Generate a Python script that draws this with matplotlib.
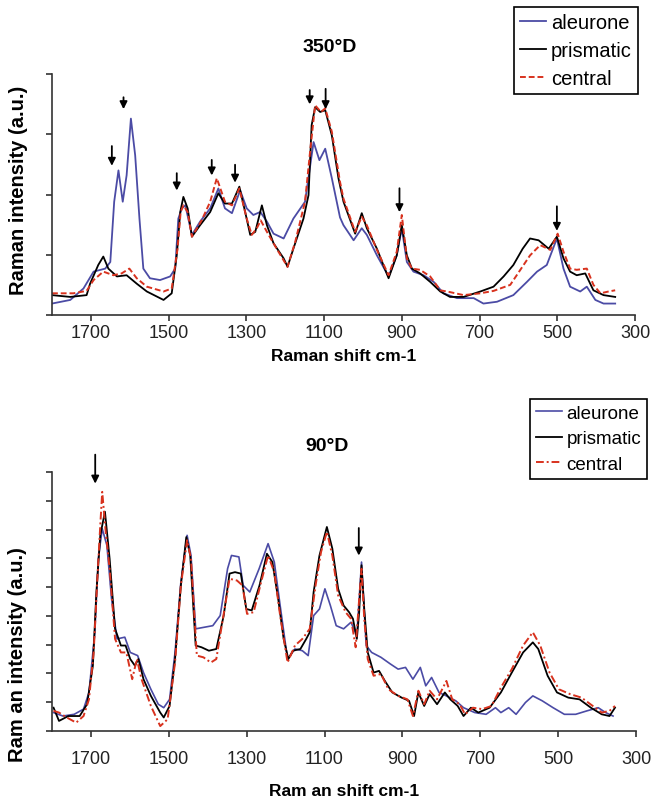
import numpy as np
import matplotlib
matplotlib.use("Agg")
import matplotlib.pyplot as plt

plt.rcParams['font.family'] = ['Liberation Sans', 'DejaVu Sans']

# ---- 350°D ----
ale350_w = [1800, 1753, 1719, 1693, 1663, 1650, 1640, 1629, 1618, 1608, 1597, 1586, 1575, 1565, 1548, 1522,
            1496, 1483, 1475, 1466, 1457, 1440, 1419, 1393, 1372, 1355, 1337, 1316, 1299, 1282, 1264, 1247,
            1230, 1204, 1179, 1149, 1127, 1112, 1097, 1080, 1059, 1050, 1024, 1003, 990, 964, 934, 913,
            900, 887, 870, 844, 818, 793, 758, 715, 690, 655, 613, 578, 552, 527, 501, 484,
            467, 441, 424, 402, 381, 351]
ale350_y = [0.19, 0.25, 0.44, 0.72, 0.77, 0.88, 1.88, 2.40, 1.88, 2.32, 3.26, 2.65, 1.60, 0.77, 0.61, 0.58,
            0.64, 0.77, 1.60, 1.77, 1.82, 1.33, 1.55, 1.77, 2.10, 1.77, 1.69, 2.07, 1.77, 1.66, 1.71, 1.55,
            1.35, 1.27, 1.60, 1.88, 2.87, 2.57, 2.76, 2.27, 1.62, 1.49, 1.24, 1.44, 1.33, 0.99, 0.64, 0.99,
            1.44, 0.88, 0.72, 0.66, 0.55, 0.36, 0.28, 0.28, 0.19, 0.22, 0.33, 0.55, 0.72, 0.83, 1.27, 0.77,
            0.47, 0.39, 0.47, 0.25, 0.19, 0.19]

pri350_w = [1800, 1753, 1711, 1702, 1681, 1668, 1655, 1633, 1608, 1582, 1556, 1513, 1492, 1479, 1470, 1462,
            1451, 1440, 1419, 1393, 1372, 1355, 1337, 1318, 1303, 1290, 1277, 1260, 1247, 1230, 1204, 1194,
            1179, 1153, 1140, 1132, 1123, 1110, 1097, 1080, 1063, 1050, 1020, 1003, 990, 964, 934, 913,
            900, 887, 874, 853, 827, 801, 776, 741, 698, 664, 638, 613, 589, 570, 548, 522,
            501, 484, 467, 450, 428, 407, 381, 351]
pri350_y = [0.33, 0.30, 0.33, 0.52, 0.83, 0.97, 0.77, 0.64, 0.66, 0.52, 0.39, 0.25, 0.36, 0.99, 1.71, 1.96,
            1.77, 1.30, 1.49, 1.71, 2.02, 1.85, 1.85, 2.13, 1.71, 1.33, 1.38, 1.82, 1.49, 1.19, 0.94, 0.80,
            1.10, 1.60, 1.99, 3.15, 3.45, 3.37, 3.40, 2.98, 2.27, 1.88, 1.35, 1.69, 1.44, 1.10, 0.61, 0.99,
            1.49, 0.99, 0.77, 0.69, 0.55, 0.39, 0.30, 0.30, 0.39, 0.47, 0.64, 0.83, 1.10, 1.27, 1.24, 1.10,
            1.30, 0.94, 0.72, 0.66, 0.69, 0.41, 0.33, 0.30]

cen350_w = [1800, 1745, 1711, 1693, 1668, 1642, 1621, 1601, 1582, 1556, 1513, 1492, 1477, 1469, 1462, 1451,
            1440, 1415, 1393, 1376, 1355, 1337, 1318, 1299, 1286, 1273, 1263, 1247, 1222, 1194, 1174, 1149,
            1136, 1123, 1108, 1097, 1080, 1059, 1050, 1020, 1003, 990, 964, 934, 913, 900, 887, 874,
            853, 827, 801, 776, 741, 698, 664, 621, 595, 570, 544, 518, 499, 484, 467, 450,
            424, 407, 389, 368, 351]
cen350_y = [0.36, 0.36, 0.40, 0.58, 0.72, 0.66, 0.69, 0.77, 0.61, 0.47, 0.39, 0.44, 1.10, 1.71, 1.82, 1.71,
            1.30, 1.57, 1.88, 2.27, 1.88, 1.82, 2.10, 1.60, 1.33, 1.44, 1.57, 1.38, 1.10, 0.80, 1.22, 1.88,
            2.71, 3.48, 3.37, 3.43, 3.04, 2.21, 1.93, 1.38, 1.63, 1.49, 1.08, 0.66, 1.05, 1.66, 0.94, 0.77,
            0.75, 0.64, 0.41, 0.38, 0.33, 0.36, 0.40, 0.50, 0.75, 0.99, 1.16, 1.08, 1.35, 1.05, 0.77, 0.75,
            0.77, 0.50, 0.36, 0.39, 0.41]

arr350_w = [1646, 1616, 1479, 1389, 1329, 1137, 1096, 906, 501]
arr350_tip = [2.43, 3.37, 2.02, 2.27, 2.15, 3.45, 3.37, 1.66, 1.35]
arr350_top = [2.85, 3.66, 2.40, 2.62, 2.54, 3.78, 3.80, 2.15, 1.85]

# ---- 90°D ----
ale90_w = [1796, 1772, 1743, 1719, 1705, 1690, 1681, 1671, 1659, 1647, 1633, 1613, 1599, 1580, 1565, 1546,
           1527, 1513, 1498, 1484, 1469, 1453, 1443, 1431, 1411, 1387, 1368, 1349, 1339, 1320, 1309, 1292,
           1268, 1245, 1229, 1214, 1195, 1176, 1157, 1142, 1128, 1113, 1099, 1085, 1070, 1051, 1032, 1017,
           1011, 1005, 993, 979, 955, 931, 911, 892, 873, 854, 840, 825, 806, 787, 763, 743,
           714, 685, 661, 647, 627, 608, 584, 565, 541, 513, 484, 455, 426, 397, 378, 359]
ale90_y = [0.64, 0.52, 0.58, 0.76, 1.34, 3.43, 5.99, 7.03, 6.45, 4.59, 3.20, 3.26, 2.73, 2.62, 2.03, 1.45,
           0.93, 0.81, 1.10, 2.73, 5.17, 6.80, 6.10, 3.55, 3.60, 3.66, 4.01, 5.64, 6.10, 6.05, 5.06, 4.83,
           5.64, 6.51, 5.87, 4.36, 2.50, 2.85, 2.79, 2.62, 4.01, 4.24, 4.94, 4.36, 3.66, 3.55, 3.78, 3.31,
           4.59, 5.87, 2.97, 2.73, 2.56, 2.33, 2.15, 2.21, 1.80, 2.21, 1.57, 1.86, 1.34, 1.22, 1.05, 0.81,
           0.64, 0.58, 0.81, 0.64, 0.81, 0.58, 0.99, 1.22, 1.05, 0.81, 0.58, 0.58, 0.70, 0.81, 0.64, 0.52]

pri90_w = [1796, 1782, 1758, 1729, 1710, 1695, 1686, 1676, 1664, 1652, 1638, 1623, 1611, 1599, 1587, 1578,
           1565, 1546, 1522, 1513, 1498, 1484, 1469, 1455, 1445, 1431, 1416, 1397, 1378, 1359, 1344, 1330,
           1315, 1301, 1287, 1267, 1248, 1234, 1219, 1205, 1193, 1181, 1162, 1147, 1138, 1128, 1113, 1094,
           1080, 1065, 1051, 1037, 1027, 1017, 1011, 1005, 998, 989, 974, 960, 945, 926, 902, 883,
           870, 859, 844, 830, 811, 791, 777, 758, 743, 724, 705, 676, 647, 619, 590, 565,
           551, 527, 503, 474, 445, 416, 388, 368, 354]
pri90_y = [0.81, 0.35, 0.52, 0.52, 0.93, 2.27, 4.83, 6.80, 7.62, 5.99, 3.55, 2.97, 2.97, 2.50, 2.27, 2.50,
           1.80, 1.22, 0.64, 0.47, 0.87, 2.50, 5.06, 6.74, 6.10, 2.97, 2.91, 2.79, 2.85, 4.01, 5.47, 5.52,
           5.47, 4.24, 4.19, 5.06, 6.16, 5.87, 4.59, 3.20, 2.50, 2.79, 2.85, 3.20, 3.43, 4.83, 6.10, 7.09,
           6.34, 4.94, 4.36, 4.13, 3.90, 3.20, 4.13, 5.76, 4.24, 2.73, 2.03, 2.09, 1.74, 1.34, 1.16, 1.05,
           0.52, 1.34, 0.87, 1.28, 0.93, 1.34, 1.10, 0.87, 0.52, 0.81, 0.64, 0.81, 1.34, 2.03, 2.73, 3.08,
           2.85, 1.92, 1.34, 1.16, 1.10, 0.81, 0.58, 0.52, 0.81]

cen90_w = [1796, 1782, 1762, 1738, 1719, 1705, 1693, 1683, 1676, 1671, 1662, 1652, 1638, 1623, 1609, 1594,
           1582, 1570, 1546, 1522, 1503, 1484, 1469, 1453, 1443, 1428, 1411, 1392, 1378, 1364, 1344, 1325,
           1311, 1299, 1282, 1263, 1245, 1229, 1214, 1195, 1176, 1157, 1138, 1123, 1109, 1094, 1080, 1065,
           1046, 1032, 1020, 1011, 1005, 998, 989, 974, 955, 936, 911, 887, 873, 859, 844, 830,
           811, 787, 772, 753, 739, 719, 695, 671, 647, 619, 590, 565, 546, 522, 498, 469,
           440, 411, 388, 368, 354]
cen90_y = [0.70, 0.64, 0.47, 0.29, 0.52, 1.10, 2.73, 5.41, 7.15, 8.31, 6.92, 5.64, 3.20, 2.73, 2.73, 1.80,
           2.50, 1.80, 0.87, 0.17, 0.41, 2.38, 5.06, 6.63, 5.99, 2.62, 2.56, 2.38, 2.50, 3.66, 5.29, 5.23,
           5.06, 4.07, 4.13, 5.17, 6.10, 5.52, 4.01, 2.38, 2.97, 3.20, 3.55, 5.06, 6.22, 6.92, 6.10, 4.71,
           4.13, 3.90, 2.91, 4.59, 5.64, 3.90, 2.50, 1.92, 1.98, 1.45, 1.22, 1.10, 0.52, 1.40, 0.93, 1.40,
           1.10, 1.74, 1.10, 0.93, 0.58, 0.81, 0.76, 0.87, 1.51, 2.15, 2.97, 3.43, 2.97, 2.03, 1.45, 1.28,
           1.16, 0.87, 0.64, 0.70, 0.87]

arr90_w = [1689, 1012]
arr90_tip = [8.5, 6.0]
arr90_top = [9.7, 7.15]

xticks = [1700, 1500, 1300, 1100, 900, 700, 500, 300]

blue = '#4b4ba5'
red = '#d8321e'

fig = plt.figure(figsize=(6.55, 8.04), dpi=100)
W, H = 655.0, 804.0
ax1 = fig.add_axes([52 / W, 1 - 316 / H, 583 / W, 241 / H])
ax2 = fig.add_axes([52 / W, 1 - 732 / H, 584 / W, 259 / H])


def style(ax, ymax, pad):
    ax.set_xlim(1800, 300)
    ax.set_ylim(0, ymax)
    ax.set_xticks(xticks)
    ax.set_yticks(range(0, ymax + 1))
    ax.set_yticklabels([])
    for s in ['top', 'right']:
        ax.spines[s].set_visible(False)
    for s in ['left', 'bottom']:
        ax.spines[s].set_linewidth(1.2)
        ax.spines[s].set_color('#333333')
    ax.tick_params(axis='both', direction='out', length=4.5, width=1.2, color='#333333')
    ax.tick_params(axis='x', labelsize=13, pad=pad, labelcolor='#222222')


style(ax1, 4, 2)
ax1.plot(ale350_w, ale350_y, color=blue, lw=1.3, label='aleurone')
ax1.plot(pri350_w, pri350_y, color='black', lw=1.3, label='prismatic')
ax1.plot(cen350_w, cen350_y, color=red, lw=1.4, dashes=(3, 1.5), label='central')
for w, t, b in zip(arr350_w, arr350_tip, arr350_top):
    ax1.annotate('', xy=(w, t), xytext=(w, b),
                 arrowprops=dict(arrowstyle='-|>', color='black', lw=1.3, mutation_scale=11))
ax1.set_xlabel('Raman shift cm-1', fontsize=12.5, fontweight='bold', labelpad=5)
ax1.set_ylabel('Raman intensity (a.u.)', fontsize=14.5, fontweight='bold')
ax1.yaxis.set_label_coords(-0.042, 0.52)
fig.text(330 / W, 1 - 47 / H, '350°D', fontsize=14, fontweight='bold', ha='center', va='center')
leg1 = ax1.legend(loc='upper right', bbox_to_anchor=(638 / W, 1 - 8 / H), bbox_transform=fig.transFigure,
                  fancybox=False, edgecolor='black', framealpha=1, fontsize=14.5, handlelength=1.3,
                  handletextpad=0.25, labelspacing=0.45, borderpad=0.3, borderaxespad=0)
leg1.get_frame().set_linewidth(1.2)

style(ax2, 9, 9)
ax2.plot(ale90_w, ale90_y, color=blue, lw=1.2, label='aleurone')
ax2.plot(pri90_w, pri90_y, color='black', lw=1.3, label='prismatic')
ax2.plot(cen90_w, cen90_y, color=red, lw=1.4, dashes=(4, 1.5, 1, 1.5), label='central')
for w, t, b in zip(arr90_w, arr90_tip, arr90_top):
    ax2.annotate('', xy=(w, t), xytext=(w, b), annotation_clip=False,
                 arrowprops=dict(arrowstyle='-|>', color='black', lw=1.3, mutation_scale=11))
ax2.set_xlabel('Ram an shift cm-1', fontsize=12.5, fontweight='bold', labelpad=12)
ax2.set_ylabel('Ram an intensity (a.u.)', fontsize=14.5, fontweight='bold')
ax2.yaxis.set_label_coords(-0.042, 0.30)
fig.text(327 / W, 1 - 447 / H, '90°D', fontsize=14, fontweight='bold', ha='center', va='center')
leg2 = ax2.legend(loc='upper right', bbox_to_anchor=(647 / W, 1 - 400 / H), bbox_transform=fig.transFigure,
                  fancybox=False, edgecolor='black', framealpha=1, fontsize=13.5, handlelength=1.4,
                  handletextpad=0.25, labelspacing=0.45, borderpad=0.3, borderaxespad=0)
leg2.get_frame().set_linewidth(1.2)

fig.savefig('out.png', dpi=100)
